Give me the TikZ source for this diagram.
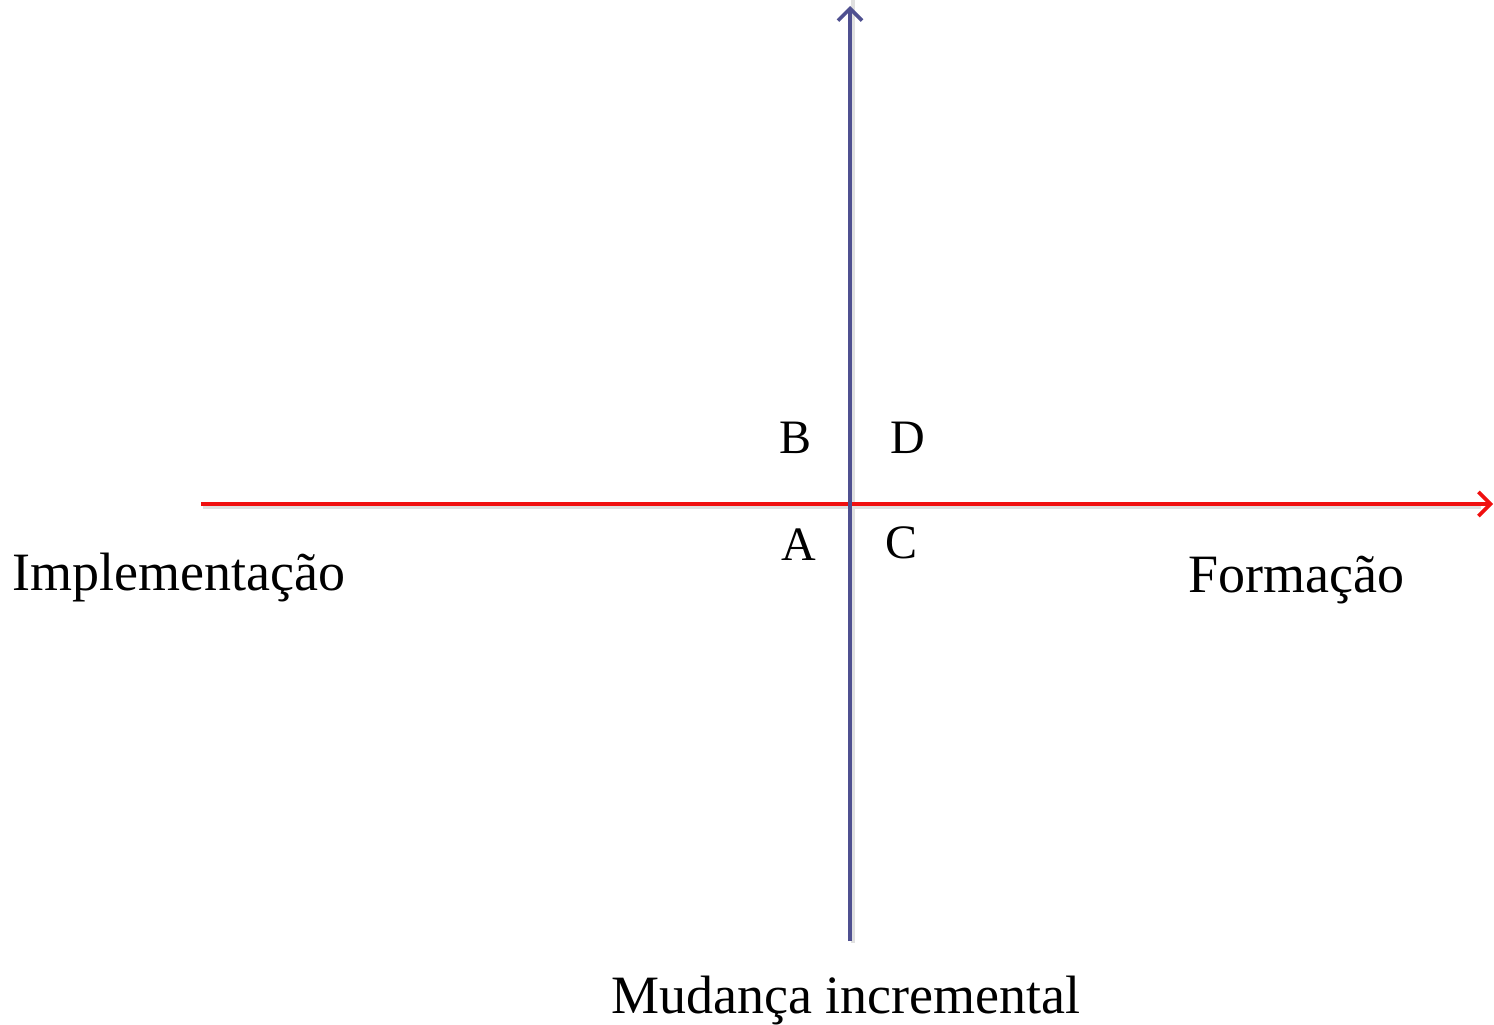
\documentclass[tikz,border=0pt]{standalone}
\usepackage{fontspec}
\setmainfont{Liberation Serif}
\usetikzlibrary{arrows.meta}
\definecolor{axisblue}{HTML}{4F5090}
\definecolor{axisred}{HTML}{F01010}
\tikzset{
  axis/.style={line width=3.6pt,-{Straight Barb[length=12pt,width=24pt,line width=3.6pt]}},
  shadowline/.style={line width=3.6pt,draw=black!12},
  biglabel/.style={font=\fontsize{54}{60}\selectfont,inner sep=0pt},
  quadlabel/.style={font=\fontsize{48}{52}\selectfont,inner sep=0pt}
}
\begin{document}
\begin{tikzpicture}[x=1pt,y=-1pt]
\useasboundingbox (0,0) rectangle (1494,1025);
\coordinate (vb) at (850,941);
\coordinate (vt) at (850,6);
\coordinate (hl) at (201,504);
\coordinate (hr) at (1493,504);
\draw[shadowline] ([xshift=2pt,yshift=-3pt]hl) -- ([xshift=-12pt,yshift=-3pt]hr);
\draw[shadowline] ([xshift=3pt,yshift=-2pt]vb) -- ([xshift=3pt,yshift=12pt]vt);
\draw[axis,axisred] (hl) -- (hr);
\draw[axis,axisblue] (vb) -- (vt);
\node[quadlabel] (B) at (795,438) {B};
\node[quadlabel] (D) at (908,438) {D};
\node[quadlabel] (A) at (799,545) {A};
\node[quadlabel] (C) at (901,543) {C};
\node[biglabel,anchor=base west] (impl) at (12,590) {Implementação};
\node[biglabel,anchor=base west] (form) at (1188,592) {Formação};
\node[biglabel,anchor=base] (mud) at (846,1013) {Mudança incremental};
\end{tikzpicture}
\end{document}
